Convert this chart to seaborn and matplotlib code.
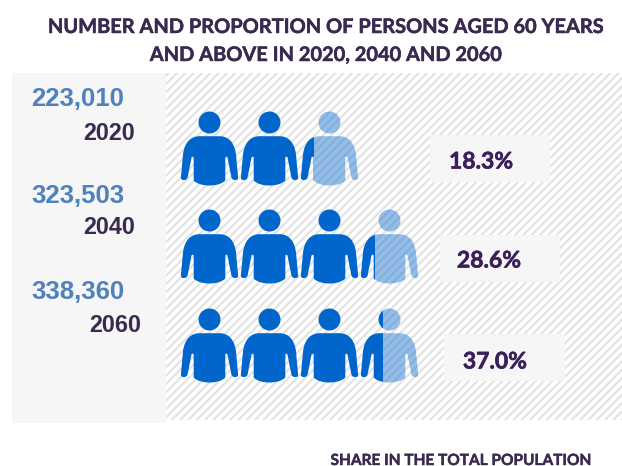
"""
plot.py
Number and proportion of persons aged 60 and above, drawn as a row of person icons.
One icon stands for 100,000 persons.
"""
import math
import matplotlib
matplotlib.use("Agg")
import matplotlib.pyplot as plt
import matplotlib.patheffects as pe
from matplotlib.patches import Rectangle
from matplotlib.path import Path
import seaborn as sns

# data
years = ["2020", "2040", "2060"]
persons = [223010, 323503, 338360]
shares = ["18.3%", "28.6%", "37.0%"]
persons_per_icon = 100000

title = "NUMBER AND PROPORTION OF PERSONS AGED 60 YEARS\nAND ABOVE IN 2020, 2040 AND 2060"
footer = "SHARE IN THE TOTAL POPULATION"

# layout in pixels of the 622x466 canvas
ROW_Y = [148, 246, 345]
ICON_X0 = 209
ICON_STEP = 59.9
ICON_W = 58
ICON_H = 74
COUNT_POS = [(77.5, 99), (77.5, 196), (77.5, 292)]
YEAR_POS = [(109, 133.5), (109, 228), (115.5, 326)]
BOX_POS = [(430, 135, 120, 47), (440, 235, 120, 47), (444, 334, 121, 47)]
SHARE_POS = [(481, 162), (489, 261), (495, 362)]

DARK = "#0066CC"
PURPLE = "#3B1F5B"
INK = "#3A2A50"
STEEL = "#4F81BD"
PANEL = "#F6F6F6"

sns.set_theme(style="white")
plt.rcParams["hatch.linewidth"] = 1.5
plt.rcParams["hatch.color"] = "#E2E2E2"


def person_marker():
    """Head and shoulders icon, pixels around its centre, y pointing up."""
    M, L, C3, C4 = Path.MOVETO, Path.LINETO, Path.CURVE3, Path.CURVE4
    body = [
        (M, (-10, 12.3)), (L, (10, 12.3)),
        (C4, (19, 12.3)), (C4, (25, 6)), (C4, (26.5, -6)),
        (L, (28.6, -29)),
        (C4, (28.9, -32.5)), (C4, (22.8, -32.5)), (C4, (21.9, -29)),
        (L, (18, -9)),
        (C3, (17, -7)), (C3, (15.8, -9)),
        (L, (15.8, -32)),
        (C4, (12, -36)), (C4, (5, -37)), (C4, (0, -37)),
        (C4, (-5, -37)), (C4, (-12, -36)), (C4, (-15.8, -32)),
        (L, (-15.8, -9)),
        (C3, (-17, -7)), (C3, (-18, -9)),
        (L, (-21.9, -29)),
        (C4, (-22.8, -32.5)), (C4, (-28.9, -32.5)), (C4, (-28.6, -29)),
        (L, (-26.5, -6)),
        (C4, (-25, 6)), (C4, (-19, 12.3)), (C4, (-10, 12.3)),
        (Path.CLOSEPOLY, (-10, 12.3)),
    ]
    codes = [c for c, _ in body]
    verts = [v for _, v in body]
    head = Path.circle((0, 26), 11)
    return Path.make_compound_path(Path(verts, codes), head)


def draw_part(ax, x, y, marker, size, clip_x, clip_w, **kws):
    sns.scatterplot(x=[x], y=[y], marker=marker, s=size, linewidth=0, legend=False, ax=ax, **kws)
    ax.collections[-1].set_clip_path(
        Rectangle((clip_x, y - ICON_H), clip_w, 2 * ICON_H, transform=ax.transData)
    )


def heavy(color, width=0.5):
    # Lato comes out lighter than the original bold face, thicken it a little
    return [pe.withStroke(linewidth=width, foreground=color)]


fig = plt.figure(figsize=(6.22, 4.66), dpi=100)
ax = fig.add_axes([0, 0, 1, 1])
ax.set_xlim(0, 622)
ax.set_ylim(466, 0)
ax.set_axis_off()

# backgrounds
ax.add_patch(Rectangle((166, 73), 456, 347, facecolor="white", edgecolor="#E2E2E2", hatch="////", linewidth=0))
ax.add_patch(Rectangle((12, 73), 154, 350, facecolor=PANEL, edgecolor="none"))

person = person_marker()
# the marker is scaled so that its largest coordinate spans half the marker size
icon_size = (ICON_H * 72 / 100) ** 2

for row, count in enumerate(persons):
    units = count / persons_per_icon
    for i in range(math.ceil(units)):
        x = ICON_X0 + i * ICON_STEP
        frac = min(units - i, 1.0)
        left = round(x - ICON_W / 2)
        split = round(left + frac * ICON_W)
        draw_part(ax, x, ROW_Y[row], person, icon_size, left, split - left, color=DARK)
        if frac < 1:
            draw_part(ax, x, ROW_Y[row], person, icon_size, split, left + ICON_W + 1 - split,
                      color=DARK, alpha=0.42)

    ax.text(*COUNT_POS[row], f"{count:,}", family="Liberation Sans", weight="bold", fontsize=18.5,
            color=STEEL, ha="center", va="center")
    ax.text(*YEAR_POS[row], years[row], family="Liberation Sans", weight="bold", fontsize=16.8,
            color=INK, ha="center", va="center")
    bx, by, bw, bh = BOX_POS[row]
    ax.add_patch(Rectangle((bx, by), bw, bh, facecolor=PANEL, edgecolor="none"))
    ax.text(*SHARE_POS[row], shares[row], family="Lato", weight="bold", fontsize=16.5,
            color=PURPLE, ha="center", va="center", path_effects=heavy(PURPLE, 0.45))

ax.text(326, 41, title, family="Lato", weight="bold", fontsize=14.4, color=INK,
        ha="center", va="center", linespacing=1.5, path_effects=heavy(INK, 0.35))
ax.text(461, 465, footer, family="Lato", weight="bold", fontsize=11.1, color=INK,
        ha="center", va="baseline", path_effects=heavy(INK, 0.3))

ax.set_xlim(0, 622)
ax.set_ylim(466, 0)
ax.set_axis_off()
fig.savefig("out.png", dpi=100)
